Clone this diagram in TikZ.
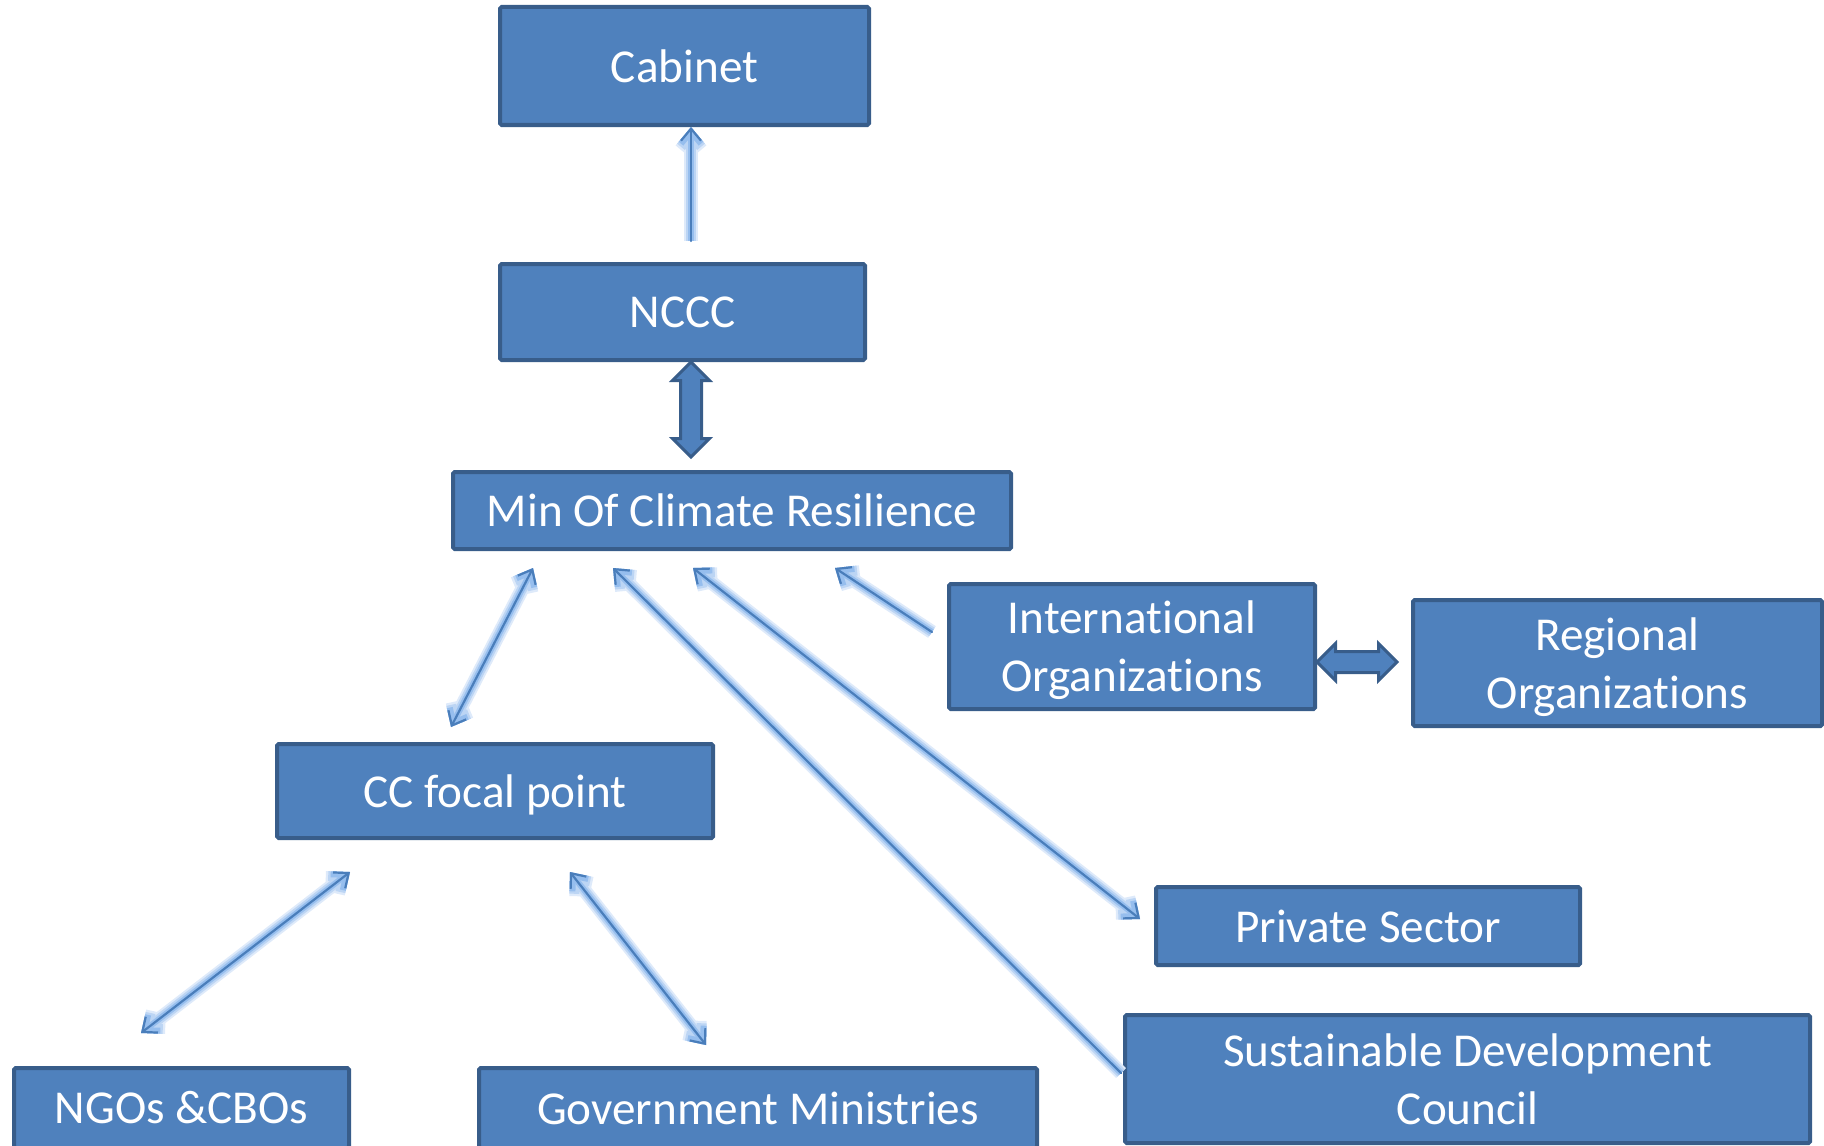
\documentclass[tikz,border=0pt]{standalone}
\usepackage{fontspec}
\setmainfont{Carlito}[Ligatures=NoCommon,RawFeature={-liga;-clig;-dlig;-calt;-rlig}]
\usetikzlibrary{arrows.meta,shapes.arrows,calc}
\definecolor{boxfill}{RGB}{79,129,189}
\definecolor{boxline}{RGB}{56,93,138}
\definecolor{arrline}{RGB}{74,126,187}
\definecolor{glowA}{RGB}{222,234,250}
\definecolor{glowB}{RGB}{188,213,244}
\definecolor{glowC}{RGB}{150,190,238}
\newcommand\tiNL{t\kern0pt i}
\tikzset{
  box/.style={draw=boxline, fill=boxfill, line width=2pt, text=white,
    font=\fontsize{23.6}{29}\selectfont, align=center, inner sep=0pt, rounded corners=0.8pt},
  barb/.tip={Straight Barb[length={6pt 0}, width={10pt 0}]},
  glow/.style={line cap=round, line join=round, draw=arrline, line width=1.1pt,
    preaction={draw=glowA, line width=7pt},
    preaction={draw=glowB, line width=5pt},
    preaction={draw=glowC, line width=3pt}},
  blockarr/.style={double arrow, draw=boxline, fill=boxfill, line width=1.5pt,
    minimum width=17pt, double arrow head extend=4pt, inner xsep=0pt, inner ysep=4.5pt,
    text height=0pt, text depth=0pt},
}
\begin{document}
\begin{tikzpicture}[x=0.5pt,y=-0.5pt]
\useasboundingbox (0,0) rectangle (1824,1145);
% boxes
\node[box, minimum width=184.5pt, minimum height=59pt] (cab) at (684.5,66) {Cabinet};
\node[box, minimum width=182.5pt, minimum height=48pt] (nccc) at (682.5,312) {NCCC};
\node[box, minimum width=279pt, minimum height=38.5pt] (min) at (732,510.5) {Min Of Climate Resilience};
\node[box, minimum width=183pt, minimum height=62.5pt, text depth=0pt] (intl) at (1132,646.5) {Interna\tiNL onal\\Organiza\tiNL ons};
\node[box, minimum width=204.5pt, minimum height=63pt, text depth=0pt] (reg) at (1617.5,663) {Regional\\Organiza\tiNL ons};
\node[box, minimum width=218pt, minimum height=47pt, text depth=0pt] (cc) at (495,791) {CC focal point};
\node[box, minimum width=212pt, minimum height=39pt] (priv) at (1368,926) {Private Sector};
\node[box, minimum width=342.5pt, minimum height=64pt] (sdc) at (1467.5,1079) {Sustainable Development\\Council};
\node[box, minimum width=167.5pt, minimum height=40pt] (ngo) at (181.5,1108) {NGOs \&CBOs};
\node[box, minimum width=279pt, minimum height=40pt] (gov) at (758,1108) {Government Ministries};
% free ends of connectors
\coordinate (cabS) at (691,241);
\coordinate (minA) at (533,568);
\coordinate (minB) at (613,568);
\coordinate (minC) at (693,568);
\coordinate (minD) at (835,568);
\coordinate (ccT) at (451,727);
\coordinate (ccL) at (350,872);
\coordinate (ccR) at (570,872);
\coordinate (ngoT) at (141,1033);
\coordinate (govT) at (706,1045);
\coordinate (privW) at (1140,919);
\coordinate (intlW) at (932,632);
\coordinate (sdcW) at (1121,1073);
\coordinate (bvc) at ($(nccc.south -| cabS)+(0,47.5)$);
\coordinate (bhc) at ($(intl.east)+(40,15.5)$);
% connectors
\draw[glow, -barb] (cabS) -- (cabS |- cab.south);
\draw[glow, barb-barb] (minA) -- (ccT);
\draw[glow, -barb] (sdcW) -- (minB);
\draw[glow, barb-barb] (privW) -- (minC);
\draw[glow, -barb] (intlW) -- (minD);
\draw[glow, barb-barb] (ccL) -- (ngoT);
\draw[glow, barb-barb] (ccR) -- (govT);
% block arrows
\node[blockarr, rotate=90, minimum height=47.5pt] (bv) at (bvc) {};
\node[blockarr, minimum height=40pt] (bh) at (bhc) {};
\end{tikzpicture}
\end{document}
